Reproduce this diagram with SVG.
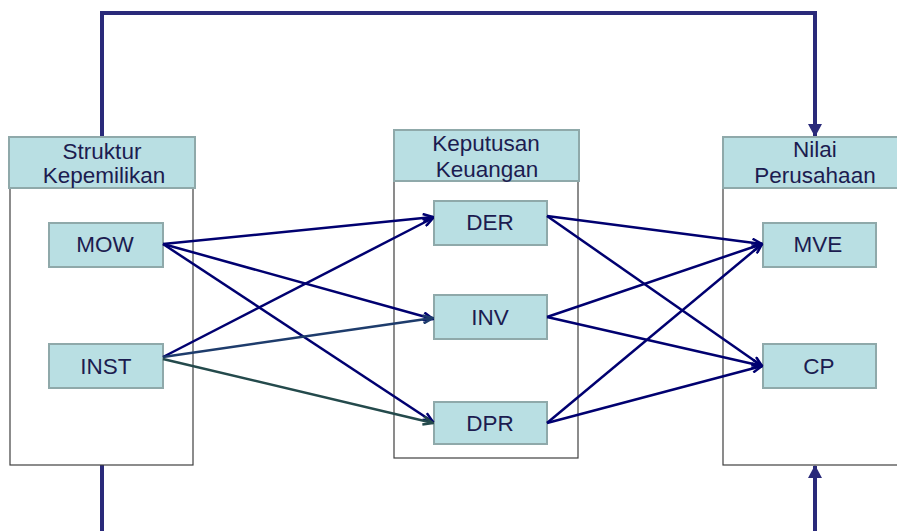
<svg xmlns="http://www.w3.org/2000/svg" width="897" height="531" viewBox="0 0 897 531">
<style>
.frame{fill:#ffffff;stroke:#404040;stroke-width:1.2}
.hdr{fill:#b9dfe3;stroke:#8fa9aa;stroke-width:2}
.node{fill:#b9dfe3;stroke:#8fa9aa;stroke-width:2}
text{font-family:"Liberation Sans",Arial,sans-serif;font-size:22.5px;fill:#1c1c50;text-anchor:middle}
.ln{fill:none;stroke:#000070;stroke-width:2.5}
.fb{fill:none;stroke:#2a2a7a;stroke-width:4}
</style>
<defs>
<marker id="ahn" markerWidth="12" markerHeight="10" refX="11" refY="5" orient="auto" markerUnits="userSpaceOnUse">
<path d="M1,1 L11,5 L1,9" fill="none" stroke="#000070" stroke-width="2.5"/>
</marker>
<marker id="ahb" markerWidth="12" markerHeight="10" refX="11" refY="5" orient="auto" markerUnits="userSpaceOnUse">
<path d="M1,1 L11,5 L1,9" fill="none" stroke="#1e3c6c" stroke-width="2.5"/>
</marker>
<marker id="ahg" markerWidth="12" markerHeight="10" refX="11" refY="5" orient="auto" markerUnits="userSpaceOnUse">
<path d="M1,1 L11,5 L1,9" fill="none" stroke="#244a4c" stroke-width="2.5"/>
</marker>
<marker id="tri" markerWidth="14" markerHeight="14" refX="12" refY="7" orient="auto" markerUnits="userSpaceOnUse">
<path d="M0,0 L13,7 L0,14 Z" fill="#2a2a7a"/>
</marker>
</defs>

<g id="feedback">
<path class="fb" d="M102,137 L102,13 L815,13 L815,136" marker-end="url(#tri)"/>
<line class="fb" x1="102" y1="465" x2="102" y2="531"/>
<line class="fb" x1="815" y1="531" x2="815" y2="466" marker-end="url(#tri)"/>
</g>

<g id="struktur">
<rect class="frame" x="10" y="137" width="183" height="328"/>
<rect class="hdr" x="9" y="137" width="186" height="51"/>
<text x="102" y="159">Struktur</text>
<text x="104" y="183">Kepemilikan</text>
</g>
<g id="keputusan">
<rect class="frame" x="394" y="130" width="184" height="328"/>
<rect class="hdr" x="394" y="130" width="185" height="51"/>
<text x="486" y="151">Keputusan</text>
<text x="487" y="177">Keuangan</text>
</g>
<g id="nilai">
<rect class="frame" x="723" y="137" width="190" height="328"/>
<rect class="hdr" x="723" y="137" width="190" height="51"/>
<text x="815" y="157">Nilai</text>
<text x="815" y="183">Perusahaan</text>
</g>

<g id="MOW"><rect class="node" x="49" y="223" width="114" height="44"/><text x="105" y="252">MOW</text></g>
<g id="INST"><rect class="node" x="49" y="344" width="114" height="44"/><text x="106" y="374">INST</text></g>
<g id="DER"><rect class="node" x="434" y="201" width="113" height="44"/><text x="490" y="230">DER</text></g>
<g id="INV"><rect class="node" x="434" y="295" width="113" height="44"/><text x="490" y="325">INV</text></g>
<g id="DPR"><rect class="node" x="434" y="402" width="113" height="42"/><text x="490" y="431">DPR</text></g>
<g id="MVE"><rect class="node" x="763" y="223" width="113" height="44"/><text x="818" y="252">MVE</text></g>
<g id="CP"><rect class="node" x="763" y="344" width="113" height="44"/><text x="819" y="374">CP</text></g>

<g id="connectors">
<line class="ln" x1="163" y1="244" x2="433" y2="217" marker-end="url(#ahn)"/>
<line class="ln" x1="163" y1="244" x2="433" y2="319" marker-end="url(#ahn)"/>
<line class="ln" x1="163" y1="244" x2="433" y2="422" marker-end="url(#ahn)"/>
<line class="ln" x1="163" y1="357" x2="433" y2="218" marker-end="url(#ahn)"/>
<line class="ln" x1="163" y1="357" x2="433" y2="318" style="stroke:#1e3c6c" marker-end="url(#ahb)"/>
<line class="ln" x1="163" y1="359" x2="433" y2="423" style="stroke:#244a4c" marker-end="url(#ahg)"/>
<line class="ln" x1="547" y1="216" x2="762" y2="244" marker-end="url(#ahn)"/>
<line class="ln" x1="547" y1="216" x2="762" y2="366" marker-end="url(#ahn)"/>
<line class="ln" x1="547" y1="317" x2="762" y2="244" marker-end="url(#ahn)"/>
<line class="ln" x1="547" y1="317" x2="762" y2="366" marker-end="url(#ahn)"/>
<line class="ln" x1="547" y1="423" x2="762" y2="244" marker-end="url(#ahn)"/>
<line class="ln" x1="547" y1="423" x2="762" y2="366" marker-end="url(#ahn)"/>
</g>
</svg>
